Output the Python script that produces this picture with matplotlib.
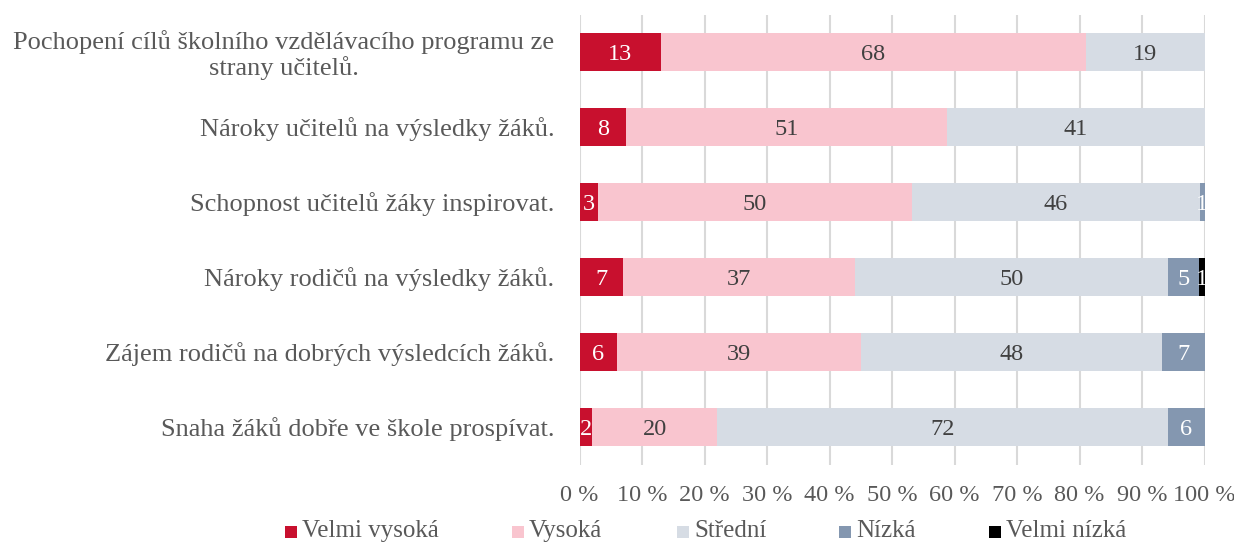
import matplotlib
matplotlib.use("Agg")
import matplotlib.pyplot as plt
from matplotlib.patches import Rectangle
import numpy as np

plt.rcParams['font.family'] = ['Liberation Serif', 'DejaVu Serif']

categories = [
    "Pochopení cílů školního vzdělávacího programu ze\nstrany učitelů.",
    "Nároky učitelů na výsledky žáků.",
    "Schopnost učitelů žáky inspirovat.",
    "Nároky rodičů na výsledky žáků.",
    "Zájem rodičů na dobrých výsledcích žáků.",
    "Snaha žáků dobře ve škole prospívat.",
]
series_names = ["Velmi vysoká", "Vysoká", "Střední", "Nízká", "Velmi nízká"]
velmi_vysoka = [13.0, 7.5, 3.0, 6.9, 6.0, 2.0]
vysoka = [68.0, 51.3, 50.2, 37.1, 39.0, 20.0]
stredni = [19.0, 41.2, 46.0, 50.2, 48.2, 72.2]
nizka = [0.0, 0.0, 0.8, 4.9, 6.8, 5.8]
velmi_nizka = [0.0, 0.0, 0.0, 0.9, 0.0, 0.0]
series = [velmi_vysoka, vysoka, stredni, nizka, velmi_nizka]
colors = ["#C8102E", "#F9C5CF", "#D6DCE4", "#8497B0", "#000000"]
label_colors = ["white", "#404040", "#404040", "white", "white"]
xticks = [0, 10, 20, 30, 40, 50, 60, 70, 80, 90, 100]

fig = plt.figure(figsize=(12.34, 5.43), dpi=100)
ax = fig.add_axes([579.5 / 1234, 78.5 / 543, 625 / 1234, 450 / 543])

y = np.arange(len(categories))
left = np.zeros(len(categories))
for vals, col, lc in zip(series, colors, label_colors):
    vals = np.array(vals)
    ax.barh(y, vals, left=left, height=0.5, color=col, zorder=3)
    for yi, (l, v) in enumerate(zip(left, vals)):
        if v > 0:
            ax.text(l + v / 2, yi + 0.03, str(int(v + 0.5)), ha='center', va='center',
                    fontsize=17.5, color=lc, zorder=4)
    left = left + vals

ax.set_xlim(0, 100)
ax.set_ylim(len(categories) - 0.5, -0.5)
ax.set_xticks(xticks)
ax.set_xticklabels([f"{t} %" for t in xticks], fontsize=17.5, color="#595959")
ax.set_yticks(y)
ax.set_yticklabels(categories, fontsize=19, color="#595959", multialignment='center',
                   linespacing=1.1)
ax.tick_params(axis='both', length=0)
ax.tick_params(axis='x', pad=15)
ax.tick_params(axis='y', pad=18)
ax.grid(axis='x', color="#D9D9D9", linewidth=1.5, zorder=0)
for s in ax.spines.values():
    s.set_visible(False)

# legend
leg_x = [285, 512, 677, 839, 989]
leg_y = 532
for xpx, name, col in zip(leg_x, series_names, colors):
    fig.patches.append(Rectangle((xpx / 1234, (543 - leg_y - 6) / 543), 12 / 1234, 12 / 543,
                                 transform=fig.transFigure, facecolor=col, edgecolor='none'))
    fig.text((xpx + 17) / 1234, (543 - leg_y + 1) / 543, name, fontsize=18, color="#595959",
             va='center', ha='left')

fig.savefig("out.png", dpi=100)
